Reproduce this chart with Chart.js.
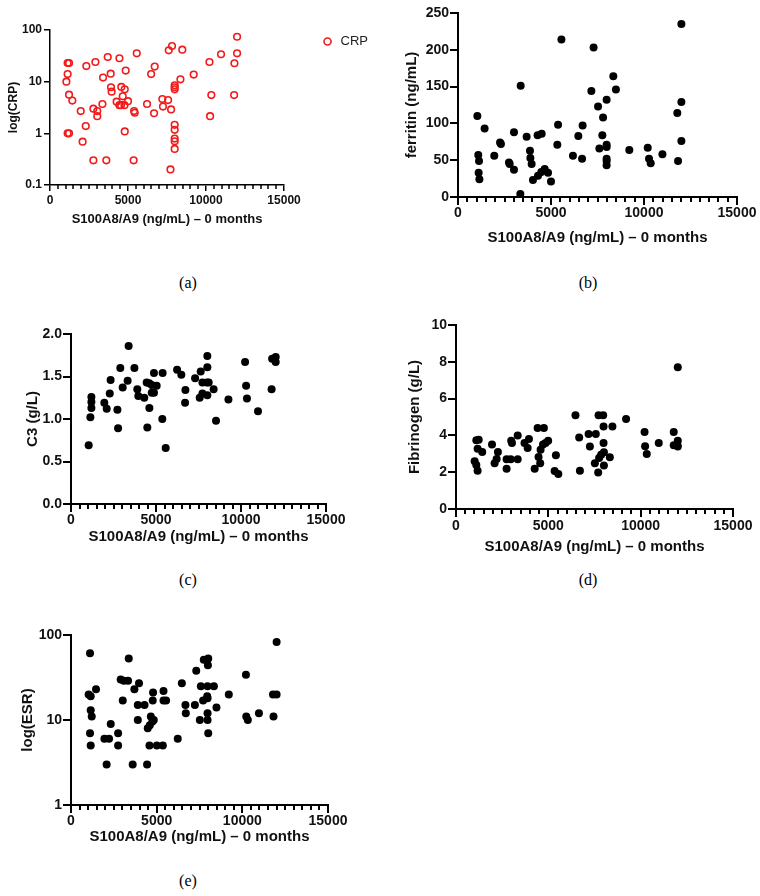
<!DOCTYPE html>
<html>
<head>
<meta charset="utf-8">
<script src="https://cdn.jsdelivr.net/npm/chart.js@4.4.1/dist/chart.umd.min.js"></script>
<style>
body { margin: 0; background: #fff; width: 760px; height: 896px; position: relative; overflow: hidden; }
canvas { position: absolute; }
.lbl { position: absolute; font-family: "Palatino Linotype", "Book Antiqua", "Liberation Serif", serif; font-size: 16px; color: #000; transform: translate(-50%, -50%); }
</style>
</head>
<body>
<canvas id="g_crp" width="380" height="231" style="left:0;top:0"></canvas>
<canvas id="g_ferritin" width="380" height="251" style="left:380px;top:0"></canvas>
<canvas id="g_c3" width="380" height="250" style="left:0;top:300px"></canvas>
<canvas id="g_fib" width="380" height="260" style="left:380px;top:300px"></canvas>
<canvas id="g_esr" width="380" height="250" style="left:0;top:600px"></canvas>
<div class="lbl" style="left:188px;top:283px">(a)</div>
<div class="lbl" style="left:588px;top:283px">(b)</div>
<div class="lbl" style="left:188px;top:580px">(c)</div>
<div class="lbl" style="left:588px;top:580px">(d)</div>
<div class="lbl" style="left:188px;top:881px">(e)</div>
<script>
// S100A8/A9 (ng/mL) at 0 months vs. each marker
const crpX = [1050, 1130, 1130, 1220, 1220, 1430, 1130, 1220, 1970, 2090, 2290, 2330, 2780, 2780, 2910, 3030, 3030, 3360, 3400, 3610, 3700, 3890, 3910, 3950, 4270, 4450, 4450, 4550, 4570, 4660, 4770, 4790, 4790, 4850, 5000, 5360, 5390, 5430, 5560, 6220, 6480, 6670, 6710, 7200, 7240, 7570, 7610, 7760, 7720, 7820, 7990, 7990, 7990, 7990, 7990, 7990, 7990, 7990, 8360, 8480, 9210, 10220, 10260, 10340, 10960, 11800, 11820, 11990, 11990]
const crpY = [10, 14, 23, 23, 5.6, 4.3, 1, 1, 2.7, 0.69, 1.38, 20, 3.0, 0.3, 24, 2.7, 2.15, 3.7, 12, 0.3, 30, 14.3, 7.8, 6.4, 4.1, 28.4, 3.5, 3.5, 7.9, 5.2, 3.5, 7.1, 1.09, 16.4, 4.2, 0.3, 2.7, 2.5, 35.4, 3.7, 14, 2.45, 19.6, 4.6, 3.3, 4.4, 40.5, 2.9, 0.2, 49, 8.5, 7.8, 7.1, 1.46, 1.17, 0.79, 0.7, 0.5, 11.1, 41.7, 13.7, 24, 2.15, 5.5, 33.9, 5.5, 22.7, 74, 35.4]

const ferritinX = [1040, 1090, 1130, 1110, 1150, 1430, 1950, 2260, 2310, 2740, 2780, 3010, 3010, 3370, 3350, 3690, 3870, 3890, 3960, 4280, 4500, 4030, 4300, 4480, 4660, 4840, 5000, 5340, 5380, 5560, 6180, 6470, 6670, 6700, 7170, 7290, 7530, 7600, 7760, 7800, 7990, 7990, 7990, 7990, 7990, 7990, 8350, 8490, 9210, 10200, 10270, 10360, 10990, 11830, 11790, 12010, 12010, 12010]
const ferritinY = [110, 57, 49, 33, 24, 93, 56, 74, 72, 47, 45, 88, 37, 151, 4, 82, 63, 53, 45, 84, 86, 23, 29, 34, 38, 33, 21, 71, 98, 214, 56, 83, 52, 97, 144, 203, 123, 66, 84, 108, 132, 71, 68, 52, 49, 43, 164, 146, 64, 67, 52, 46, 58, 49, 114, 129, 76, 235]

const c3X = [1040, 1140, 1200, 1200, 1200, 1960, 2100, 2280, 2330, 2730, 2770, 2900, 3040, 3330, 3390, 3730, 3900, 3960, 4310, 4450, 4490, 4610, 4600, 4750, 4750, 4880, 4880, 5040, 5390, 5370, 5570, 6240, 6490, 6730, 6710, 7300, 7570, 7630, 7730, 7730, 8020, 8020, 8000, 8100, 8020, 8390, 8530, 9260, 10240, 10300, 10350, 11000, 11800, 11830, 12040, 12040]
const c3Y = [0.69, 1.02, 1.26, 1.2, 1.13, 1.19, 1.12, 1.3, 1.46, 1.11, 0.89, 1.6, 1.37, 1.45, 1.86, 1.6, 1.35, 1.27, 1.25, 1.43, 0.9, 1.13, 1.42, 1.4, 1.31, 1.31, 1.54, 1.39, 1.54, 1.0, 0.66, 1.58, 1.52, 1.34, 1.19, 1.48, 1.25, 1.56, 1.43, 1.3, 1.74, 1.61, 1.43, 1.43, 1.28, 1.35, 0.98, 1.23, 1.67, 1.39, 1.24, 1.09, 1.35, 1.71, 1.73, 1.67]

const fibX = [1100, 1230, 1170, 1420, 1010, 1100, 1170, 1950, 2090, 2270, 2200, 2740, 2960, 2740, 2990, 3030, 3340, 3340, 3710, 3880, 3950, 4260, 4420, 4760, 4470, 4560, 4580, 4710, 4850, 4990, 5410, 5340, 5540, 6470, 6670, 6710, 7180, 7250, 7570, 7520, 7720, 7970, 7700, 7750, 7860, 8010, 7990, 7990, 8010, 8330, 8470, 9210, 10210, 10240, 10330, 10980, 11790, 11790, 11990, 12010, 12010, 12010]
const fibY = [3.73, 3.77, 3.28, 3.1, 2.59, 2.39, 2.08, 3.5, 2.48, 3.1, 2.72, 2.7, 2.7, 2.19, 3.71, 3.59, 4.0, 2.7, 3.59, 3.32, 3.8, 2.19, 4.4, 4.4, 2.83, 2.48, 3.22, 3.5, 3.59, 3.71, 2.92, 2.07, 1.9, 5.09, 3.89, 2.08, 4.08, 3.4, 4.08, 2.48, 5.09, 5.09, 1.99, 2.77, 2.95, 3.08, 4.49, 3.59, 2.36, 2.81, 4.49, 4.89, 4.18, 3.41, 2.99, 3.59, 4.18, 3.46, 3.46, 3.71, 3.39, 7.7]

const esrX = [1110, 1030, 1150, 1150, 1210, 1110, 1150, 1460, 1950, 2220, 2080, 2320, 2750, 2750, 2900, 3080, 3020, 3330, 3370, 3700, 3600, 3900, 3900, 3970, 4290, 4440, 4480, 4600, 4580, 4660, 4750, 4830, 4770, 4790, 5010, 5360, 5400, 5400, 5550, 6230, 6470, 6680, 6700, 7230, 7310, 7520, 7580, 7710, 7750, 7930, 8010, 7970, 8340, 7990, 7950, 7970, 7970, 7970, 8010, 8490, 9210, 10210, 10230, 10320, 10970, 11820, 11790, 12000, 12000]
const esrY = [61, 20, 19, 13, 11, 7, 5, 23, 6, 6, 3, 9, 7, 5, 30, 29, 17, 29, 53, 23, 3, 10, 15, 27, 15, 3, 8, 8.7, 5, 11, 9.6, 10, 17, 21, 5, 5, 22, 17, 17, 6, 27, 15, 12, 15, 38, 10, 25, 17, 51, 51, 53, 25, 25, 44, 19, 18, 12, 10, 7, 14, 20, 34, 11, 10, 12, 11, 20, 20, 83]

const xMajorStep = 5000
const xMinorStep = 500
const crpTicks = [0.1, 1, 10, 100]
const esrTicks = [1, 10, 100]

const xTitle = "S100A8/A9 (ng/mL) \u2013 0 months"
const FONT = "'Liberation Sans', Arial, Helvetica, sans-serif"

function toPoints(xs, ys) {
    return xs.map((x, i) => ({ x: x, y: ys[i] }))
}

// small minor ticks along the x axis, every 500
function minorTicks(len, width) {
    return {
        id: "minorTicks",
        afterDraw(chart) {
            const sx = chart.scales.x
            const ctx = chart.ctx
            ctx.save()
            ctx.strokeStyle = "#000"
            ctx.lineWidth = width
            for (let v = sx.min + xMinorStep; v < sx.max; v += xMinorStep) {
                if (v % xMajorStep === 0) continue
                const px = Math.round(sx.getPixelForValue(v))
                ctx.beginPath()
                ctx.moveTo(px, sx.top)
                ctx.lineTo(px, sx.top + len)
                ctx.stroke()
            }
            ctx.restore()
        }
    }
}

function makeOptions(p) {
    const tickFont = { family: FONT, size: p.tickSize, weight: "bold" }
    const titleFont = { family: FONT, size: p.titleSize, weight: "bold" }
    const yTitleFont = { family: FONT, size: p.yTitleSize || p.titleSize, weight: "bold" }
    const grid = { drawOnChartArea: false, lineWidth: p.lineW, tickLength: p.tickLen, tickColor: "#000", tickWidth: p.lineW }
    const y = Object.assign({
        position: "left",
        ticks: { color: "#111", padding: 1, font: tickFont },
        grid: grid,
        border: { color: "#000", width: p.lineW },
        title: { display: true, text: p.yTitle, color: "#111", font: yTitleFont, padding: { top: p.yTitlePad, bottom: 0 } },
        afterFit: s => { s.width = p.yWidth }
    }, p.y)
    y.ticks = Object.assign(y.ticks, p.yTicks || {})
    const scales = {
        x: {
            type: "linear",
            position: "bottom",
            min: 0,
            max: 15000,
            ticks: { stepSize: xMajorStep, color: "#111", padding: p.xPad, maxRotation: 0, font: tickFont, callback: v => String(v) },
            grid: grid,
            border: { color: "#000", width: p.lineW },
            title: { display: true, text: xTitle, color: "#111", font: titleFont, padding: { top: 4, bottom: 4 } },
            afterFit: s => { s.height = p.xHeight }
        },
        y: y
    }
    if (p.gap) {
        scales.gap = {
            type: "linear",
            position: "right",
            display: true,
            ticks: { display: false },
            grid: { display: false, drawTicks: false },
            border: { display: false },
            afterFit: s => { s.width = p.gap }
        }
    }
    return {
        responsive: false,
        animation: false,
        layout: { padding: p.padding },
        plugins: {
            legend: p.legend || { display: false },
            tooltip: { enabled: false }
        },
        scales: scales
    }
}

const blackDots = { backgroundColor: "#000", borderColor: "#000", pointRadius: 4, borderWidth: 0, pointStyle: "circle" }

new Chart(document.getElementById("g_crp"), {
    type: "scatter",
    data: {
        datasets: [{
            label: "CRP",
            data: toPoints(crpX, crpY),
            backgroundColor: "rgba(0,0,0,0)",
            borderColor: "#f21a1a",
            borderWidth: 1.6,
            pointRadius: 3.3,
            pointStyle: "circle"
        }]
    },
    options: makeOptions({
        padding: { top: 30, right: 2, bottom: 0, left: 0 },
        yWidth: 50, xHeight: 46, tickLen: 6, lineW: 1.5,
        tickSize: 12, titleSize: 13, yTitleSize: 12, yTitlePad: 6, xPad: 2,
        yTitle: "log(CRP)",
        y: { type: "logarithmic", min: 0.1, max: 100, afterBuildTicks: s => { s.ticks = crpTicks.map(v => ({ value: v })) } },
        yTicks: { padding: 2, callback: v => String(v) },
        gap: 32,
        legend: {
            display: true,
            position: "right",
            align: "start",
            labels: { usePointStyle: true, boxWidth: 13, boxHeight: 5, padding: 5, color: "#222", font: { family: FONT, size: 13 } }
        }
    }),
    plugins: [minorTicks(4, 1.5)]
})

new Chart(document.getElementById("g_ferritin"), {
    type: "scatter",
    data: { datasets: [Object.assign({ label: "ferritin", data: toPoints(ferritinX, ferritinY) }, blackDots)] },
    options: makeOptions({
        padding: { top: 13, right: 23, bottom: 0, left: 0 },
        yWidth: 78, xHeight: 54, tickLen: 8, lineW: 2,
        tickSize: 14, titleSize: 15, yTitlePad: 23, xPad: 0,
        yTitle: "ferritin (ng/mL)",
        y: { type: "linear", min: 0, max: 250 },
        yTicks: { stepSize: 50 }
    }),
    plugins: [minorTicks(5, 2)]
})

new Chart(document.getElementById("g_c3"), {
    type: "scatter",
    data: { datasets: [Object.assign({ label: "C3", data: toPoints(c3X, c3Y) }, blackDots)] },
    options: makeOptions({
        padding: { top: 34, right: 54, bottom: 0, left: 0 },
        yWidth: 71, xHeight: 46, tickLen: 8, lineW: 2,
        tickSize: 14, titleSize: 15, yTitlePad: 24, xPad: 0,
        yTitle: "C3 (g/L)",
        y: { type: "linear", min: 0, max: 2 },
        yTicks: { stepSize: 0.5, callback: v => v.toFixed(1) }
    }),
    plugins: [minorTicks(5, 2)]
})

new Chart(document.getElementById("g_fib"), {
    type: "scatter",
    data: { datasets: [Object.assign({ label: "Fibrinogen", data: toPoints(fibX, fibY) }, blackDots)] },
    options: makeOptions({
        padding: { top: 25, right: 27, bottom: 0, left: 0 },
        yWidth: 76, xHeight: 51, tickLen: 8, lineW: 2,
        tickSize: 14, titleSize: 15, yTitlePad: 26, xPad: 1,
        yTitle: "Fibrinogen (g/L)",
        y: { type: "linear", min: 0, max: 10 },
        yTicks: { stepSize: 2 }
    }),
    plugins: [minorTicks(5, 2)]
})

new Chart(document.getElementById("g_esr"), {
    type: "scatter",
    data: { datasets: [Object.assign({ label: "ESR", data: toPoints(esrX, esrY) }, blackDots)] },
    options: makeOptions({
        padding: { top: 35, right: 52, bottom: 0, left: 0 },
        yWidth: 71, xHeight: 45, tickLen: 8, lineW: 2,
        tickSize: 14, titleSize: 15, yTitlePad: 19, xPad: 0,
        yTitle: "log(ESR)",
        y: { type: "logarithmic", min: 1, max: 100, afterBuildTicks: s => { s.ticks = esrTicks.map(v => ({ value: v })) } },
        yTicks: { callback: v => String(v) }
    }),
    plugins: [minorTicks(5, 2)]
})
</script>
</body>
</html>
